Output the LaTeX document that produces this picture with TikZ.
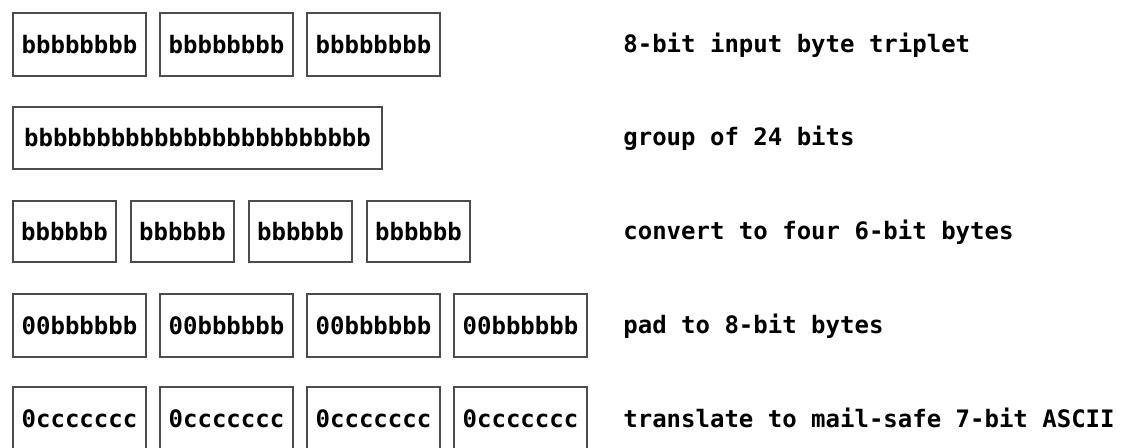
\documentclass[tikz,border=0pt]{standalone}
\usepackage{fontspec}
\setmonofont{DejaVu Sans Mono}
\usetikzlibrary{positioning}

\tikzset{
  bytebox/.style={draw=black!70, line width=1pt, inner sep=0pt,
    minimum width=66.5pt, minimum height=31.5pt,
    font=\ttfamily\bfseries\fontsize{12}{14}\selectfont},
  steplabel/.style={anchor=west, inner sep=0pt,
    font=\ttfamily\bfseries\fontsize{12}{14}\selectfont}
}

\begin{document}
\begin{tikzpicture}[x=0.5pt, y=-0.5pt, node distance=6pt]
  \useasboundingbox (0,0) rectangle (1131,447);
  \clip (0,0) rectangle (1131,447);

  % Bytes de entrada
  \node[bytebox, anchor=north west] (in1) at (12,12) {bbbbbbbb};
  \node[bytebox, right=of in1] (in2) {bbbbbbbb};
  \node[bytebox, right=of in2] (in3) {bbbbbbbb};
  \node[steplabel] (lin) at (623,45) {8-bit input byte triplet};

  % Grupo de 24 bits
  \node[bytebox, anchor=north west, minimum width=184.5pt, minimum height=31pt]
    (grp) at (12,106) {bbbbbbbbbbbbbbbbbbbbbbbb};
  \node[steplabel] (lgrp) at (623,138) {group of 24 bits};

  % Cuatro bytes de 6 bits
  \node[bytebox, anchor=north west, minimum width=51.5pt, minimum height=30.5pt]
    (six1) at (12,200) {bbbbbb};
  \node[bytebox, minimum width=51.5pt, minimum height=30.5pt, right=6.5pt of six1] (six2) {bbbbbb};
  \node[bytebox, minimum width=51.5pt, minimum height=30.5pt, right=6.5pt of six2] (six3) {bbbbbb};
  \node[bytebox, minimum width=51.5pt, minimum height=30.5pt, right=6.5pt of six3] (six4) {bbbbbb};
  \node[steplabel] (lsix) at (623,232) {convert to four 6-bit bytes};

  % Relleno a 8 bits
  \node[bytebox, anchor=north west] (pad1) at (12,293) {00bbbbbb};
  \node[bytebox, right=of pad1] (pad2) {00bbbbbb};
  \node[bytebox, right=of pad2] (pad3) {00bbbbbb};
  \node[bytebox, right=of pad3] (pad4) {00bbbbbb};
  \node[steplabel] (lpad) at (623,326) {pad to 8-bit bytes};

  % ASCII de 7 bits
  \node[bytebox, anchor=north west] (asc1) at (12,386) {0ccccccc};
  \node[bytebox, right=of asc1] (asc2) {0ccccccc};
  \node[bytebox, right=of asc2] (asc3) {0ccccccc};
  \node[bytebox, right=of asc3] (asc4) {0ccccccc};
  \node[steplabel] (lasc) at (623,418) {translate to mail-safe 7-bit ASCII};
\end{tikzpicture}
\end{document}
